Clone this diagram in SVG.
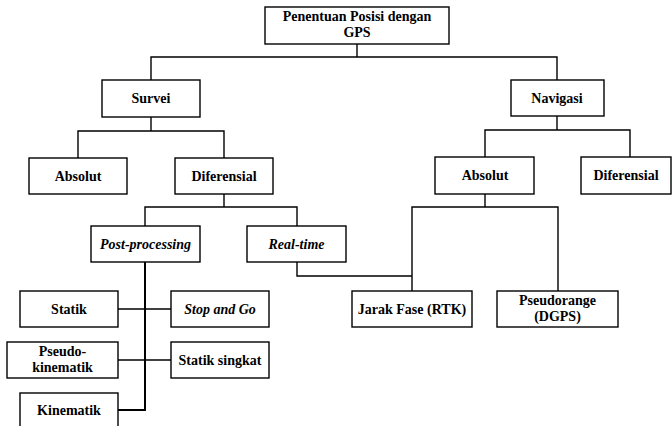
<svg xmlns="http://www.w3.org/2000/svg" width="672" height="426" viewBox="0 0 672 426">
<style>
.box{fill:#fff;stroke:#000;stroke-width:1.4}
.t{font-family:"Liberation Serif","Times New Roman",serif;font-weight:bold;font-size:14px;text-anchor:middle;fill:#000}
.i{font-style:italic}
.c{fill:none;stroke:#000;stroke-width:1.4}
</style>
<rect width="672" height="426" fill="#fff"/>
<g id="connectors">
<polyline class="c" points="357,44 357,57"/>
<polyline class="c" points="151,80 151,57 557,57 557,80"/>
<polyline class="c" points="151,117 151,131"/>
<polyline class="c" points="78,158 78,131 224,131 224,158"/>
<polyline class="c" points="557,116 557,130"/>
<polyline class="c" points="485,157 485,130 630,130 630,157"/>
<polyline class="c" points="224,194 224,207"/>
<polyline class="c" points="145,226 145,207 297,207 297,226"/>
<polyline class="c" points="485,194 485,207"/>
<polyline class="c" points="412,291 412,207 558,207 558,291"/>
<polyline class="c" points="297,262 297,276 412,276"/>
<polyline class="c" points="145,262 145,410 118,410" style="stroke-width:2"/>
<polyline class="c" points="118,309 171,309"/>
<polyline class="c" points="118,360 171,360"/>
</g>
<g id="root"><rect class="box" x="265" y="7" width="184" height="37"/><text class="t" x="357" y="21">Penentuan Posisi dengan</text><text class="t" x="357" y="37">GPS</text></g>
<g id="survei"><rect class="box" x="102" y="80" width="98" height="37"/><text class="t" x="151" y="103">Survei</text></g>
<g id="navigasi"><rect class="box" x="511" y="80" width="93" height="36"/><text class="t" x="557" y="103">Navigasi</text></g>
<g id="survei-absolut"><rect class="box" x="29" y="158" width="98" height="36"/><text class="t" x="78" y="181">Absolut</text></g>
<g id="survei-diferensial"><rect class="box" x="175" y="158" width="98" height="36"/><text class="t" x="224" y="181">Diferensial</text></g>
<g id="nav-absolut"><rect class="box" x="435" y="157" width="99" height="37"/><text class="t" x="485" y="180">Absolut</text></g>
<g id="nav-diferensial"><rect class="box" x="581" y="157" width="90" height="37"/><text class="t" x="626" y="180">Diferensial</text></g>
<g id="post-processing"><rect class="box" x="91" y="226" width="109" height="36"/><text class="t i" x="145.5" y="249">Post-processing</text></g>
<g id="real-time"><rect class="box" x="247" y="226" width="99" height="36"/><text class="t i" x="296.5" y="249">Real-time</text></g>
<g id="jarak-fase"><rect class="box" x="352" y="291" width="120" height="36"/><text class="t" x="412" y="314">Jarak Fase (RTK)</text></g>
<g id="pseudorange"><rect class="box" x="497" y="291" width="121" height="36"/><text class="t" x="557.5" y="305">Pseudorange</text><text class="t" x="557.5" y="321">(DGPS)</text></g>
<g id="statik"><rect class="box" x="20" y="291" width="98" height="36"/><text class="t" x="69" y="314">Statik</text></g>
<g id="stop-and-go"><rect class="box" x="171" y="291" width="98" height="36"/><text class="t i" x="220" y="314">Stop and Go</text></g>
<g id="pseudo-kinematik"><rect class="box" x="7" y="342" width="111" height="36"/><text class="t" x="62.5" y="356">Pseudo-</text><text class="t" x="62.5" y="372">kinematik</text></g>
<g id="statik-singkat"><rect class="box" x="171" y="342" width="98" height="36"/><text class="t" x="220" y="365">Statik singkat</text></g>
<g id="kinematik"><rect class="box" x="20" y="393" width="98" height="37"/><text class="t" x="69" y="415">Kinematik</text></g>
</svg>
